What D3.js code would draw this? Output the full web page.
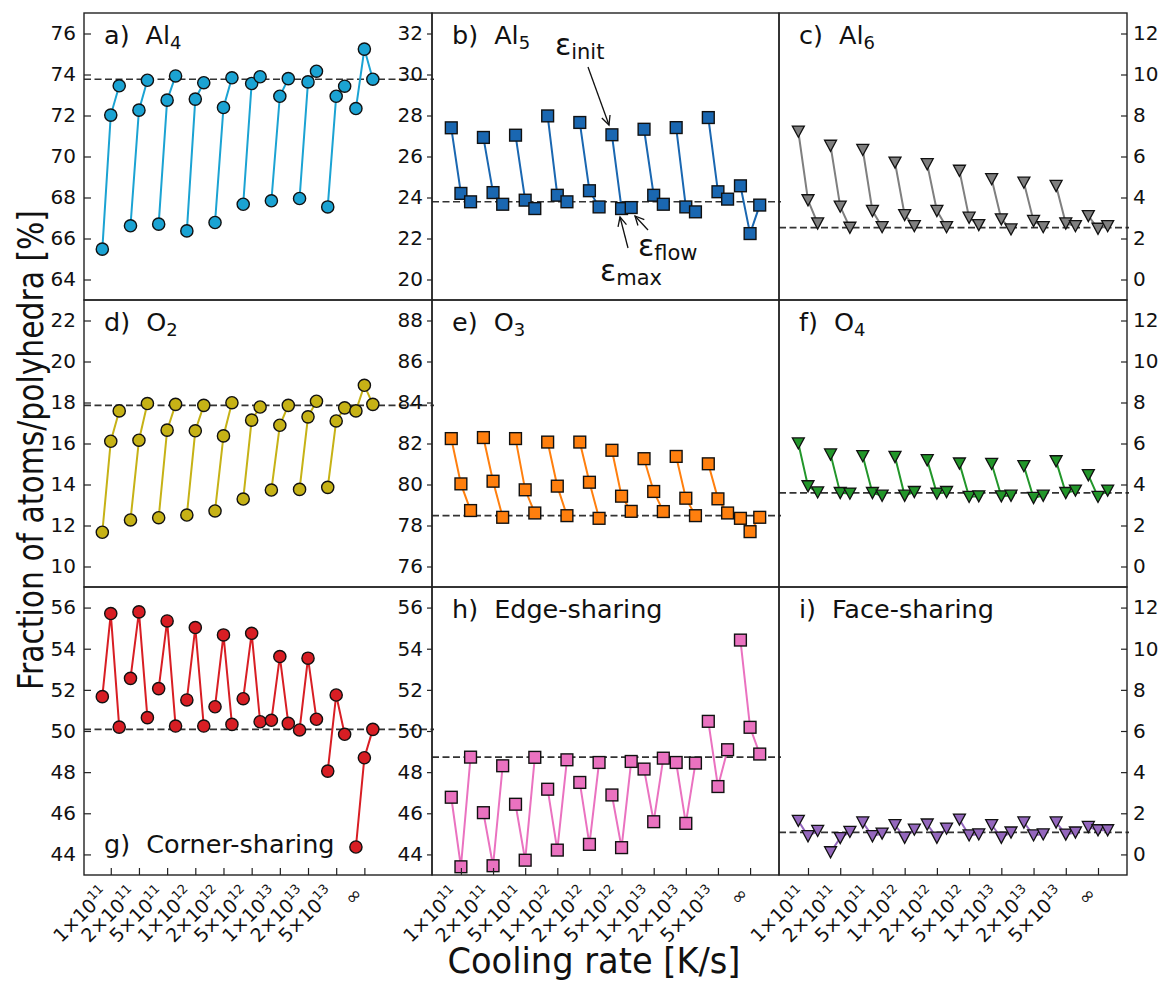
<!DOCTYPE html>
<html><head><meta charset="utf-8">
<script src="https://cdn.jsdelivr.net/npm/d3@7"></script>
<style>
body{margin:0;background:#fff}
svg{display:block}
text{font-family:"DejaVu Sans",sans-serif;fill:#111}
</style>
</head><body>
<svg id="chart" width="1162" height="990"></svg>
<script>
// ---------- tick labels ----------
const tickMantissa = ["1","2","5","1","2","5","1","2","5","∞"];
const tickExponent = ["11","11","11","12","12","12","13","13","13",""];

// ---------- data (init, max, flow per cooling rate) ----------
const al4Init = [65.48,66.62,66.70,66.37,66.78,67.67,67.84,67.95,67.54,72.34];
const al4Max  = [72.02,72.26,72.75,72.80,72.39,73.56,72.94,73.64,72.94,75.24];
const al4Flow = [73.45,73.72,73.93,73.60,73.84,73.89,73.80,74.16,73.43,73.77];
const al4Ref = 73.77;

const al5Init = [27.40,26.93,27.04,27.98,27.66,27.06,27.33,27.41,27.90,24.57];
const al5Max  = [24.20,24.24,23.87,24.11,24.33,23.46,24.11,23.54,24.28,22.24];
const al5Flow = [23.79,23.67,23.46,23.79,23.54,23.51,23.67,23.30,23.92,23.63];
const al5Ref = 23.79;

const al6Init = [7.22,6.53,6.33,5.71,5.63,5.31,4.90,4.73,4.57,3.10];
const al6Max  = [3.87,3.56,3.35,3.15,3.35,3.02,2.94,2.86,2.74,2.48];
const al6Flow = [2.74,2.53,2.56,2.61,2.56,2.66,2.45,2.56,2.61,2.61];
const al6Ref = 2.53;

const o2Init = [11.67,12.27,12.38,12.51,12.71,13.29,13.73,13.76,13.86,17.59];
const o2Max  = [16.11,16.16,16.65,16.62,16.37,17.14,16.89,17.30,17.10,18.84];
const o2Flow = [17.59,17.95,17.91,17.86,17.99,17.78,17.86,18.06,17.74,17.91];
const o2Ref = 17.86;

const o3Init = [82.24,82.29,82.24,82.07,82.07,81.67,81.26,81.37,81.01,78.35];
const o3Max  = [80.03,80.16,79.74,79.92,80.11,79.43,79.66,79.33,79.30,77.70];
const o3Flow = [78.73,78.40,78.61,78.48,78.35,78.69,78.68,78.48,78.61,78.40];
const o3Ref = 78.48;

const o4Init = [6.01,5.47,5.39,5.35,5.19,5.03,5.01,4.90,5.14,4.46];
const o4Max  = [3.92,3.59,3.59,3.46,3.56,3.40,3.43,3.35,3.59,3.40];
const o4Flow = [3.62,3.56,3.46,3.64,3.64,3.43,3.46,3.46,3.71,3.71];
const o4Ref = 3.59;

const cornerInit = [51.67,52.56,52.06,51.51,51.18,51.57,50.52,50.05,48.05,44.36];
const cornerMax  = [55.71,55.79,55.35,55.03,54.67,54.75,53.62,53.54,51.75,48.70];
const cornerFlow = [50.19,50.65,50.24,50.24,50.32,50.45,50.37,50.57,49.84,50.08];
const cornerRef = 50.08;

const edgeInit = [46.78,46.03,46.44,47.17,47.50,46.89,48.15,48.47,50.47,54.42];
const edgeMax  = [43.40,43.45,43.72,44.21,44.49,44.33,45.59,45.51,47.30,50.18];
const edgeFlow = [48.73,48.31,48.72,48.60,48.47,48.52,48.68,48.44,49.09,48.88];
const edgeRef = 48.73;

const faceInit = [1.64,0.11,1.56,1.43,1.46,1.70,1.43,1.56,1.56,1.34];
const faceMax  = [0.89,0.80,0.89,0.82,0.82,0.93,0.82,0.93,0.97,1.18];
const faceFlow = [1.15,1.10,1.02,1.21,1.26,0.98,1.07,0.98,1.07,1.18];
const faceRef = 1.07;

// y-axis lower limits (each panel spans 14 %)
const yLower = [63, 19, -1, 9, 75, -1, 43, 43, -1];

const panels = [
  {tag:"a)", name:"Al", sub:"4", init:al4Init, max:al4Max, flow:al4Flow, ref:al4Ref, color:"#1ba3d3", marker:"circle"},
  {tag:"b)", name:"Al", sub:"5", init:al5Init, max:al5Max, flow:al5Flow, ref:al5Ref, color:"#1a67b1", marker:"square"},
  {tag:"c)", name:"Al", sub:"6", init:al6Init, max:al6Max, flow:al6Flow, ref:al6Ref, color:"#7f7f7f", marker:"tri"},
  {tag:"d)", name:"O", sub:"2", init:o2Init, max:o2Max, flow:o2Flow, ref:o2Ref, color:"#c6b216", marker:"circle"},
  {tag:"e)", name:"O", sub:"3", init:o3Init, max:o3Max, flow:o3Flow, ref:o3Ref, color:"#ff7f0e", marker:"square"},
  {tag:"f)", name:"O", sub:"4", init:o4Init, max:o4Max, flow:o4Flow, ref:o4Ref, color:"#22962a", marker:"tri"},
  {tag:"g)", name:"Corner-sharing", sub:"", init:cornerInit, max:cornerMax, flow:cornerFlow, ref:cornerRef, color:"#d81e24", marker:"circle", labelBottom:true},
  {tag:"h)", name:"Edge-sharing", sub:"", init:edgeInit, max:edgeMax, flow:edgeFlow, ref:edgeRef, color:"#ea72c0", marker:"square"},
  {tag:"i)", name:"Face-sharing", sub:"", init:faceInit, max:faceMax, flow:faceFlow, ref:faceRef, color:"#9467bd", marker:"tri"}
];

// ---------- layout ----------
const colX = [[84,432],[432,779],[779,1127]];
const rowY = [[13,300],[300,587],[587,875]];
const colDomain = [[-0.95,11.4],[-0.9,9.9],[-0.9,9.9]];
const offsets = [-0.3, 0, 0.3];

const svg = d3.select("#chart");
const gPlots = svg.append("g");
const gFrames = svg.append("g");

function drawMarker(g, type, cx, cy, color){
  if(type==="circle"){
    g.append("circle").attr("cx",cx).attr("cy",cy).attr("r",6.1)
      .attr("fill",color).attr("stroke","#111").attr("stroke-width",1.4);
  } else if(type==="square"){
    g.append("rect").attr("x",cx-5.9).attr("y",cy-5.9).attr("width",11.8).attr("height",11.8)
      .attr("fill",color).attr("stroke","#111").attr("stroke-width",1.4);
  } else {
    const s=6;
    g.append("path").attr("d",`M${cx-s},${cy-s*0.9}L${cx+s},${cy-s*0.9}L${cx},${cy+s*0.95}Z`)
      .attr("fill",color).attr("stroke","#111").attr("stroke-width",1.3).attr("stroke-linejoin","miter");
  }
}

panels.forEach((p,k)=>{
  const r = Math.floor(k/3), c = k%3;
  const [x0,x1] = colX[c], [y0,y1] = rowY[r];
  const x = d3.scaleLinear().domain(colDomain[c]).range([x0,x1]);
  const y = d3.scaleLinear().domain([yLower[k], yLower[k]+14]).range([y1,y0]);
  const g = gPlots.append("g");

  // reference dashed line
  g.append("line").attr("x1",x0).attr("x2",x1+2).attr("y1",y(p.ref)).attr("y2",y(p.ref))
    .attr("stroke","#333").attr("stroke-width",1.6).attr("stroke-dasharray","7,3.5");

  const line = d3.line().x(d=>x(d[0])).y(d=>y(d[1]));
  p.init.forEach((v,i)=>{
    const pts = [[i+offsets[0],p.init[i]],[i+offsets[1],p.max[i]],[i+offsets[2],p.flow[i]]];
    g.append("path").attr("d",line(pts)).attr("fill","none")
      .attr("stroke",p.color).attr("stroke-width",2);
    pts.forEach(d=>drawMarker(g,p.marker,x(d[0]),y(d[1]),p.color));
  });

  // y axis
  let axis;
  const yt = d3.range(yLower[k]+1, yLower[k]+14, 2);
  if(c===0) axis = d3.axisLeft(y).tickValues(yt).tickSize(-7).tickPadding(8);
  else if(c===1) axis = d3.axisLeft(y).tickValues(yt).tickSize(5).tickPadding(4);
  else axis = d3.axisRight(y).tickValues(yt).tickSize(-6).tickPadding(6);
  const ga = gFrames.append("g").attr("transform",`translate(${c===2?x1:x0},0)`).call(axis);
  ga.select(".domain").remove();
  ga.selectAll("line").attr("stroke","#222").attr("stroke-width",1.2);
  ga.selectAll("text").attr("font-size",20).attr("font-family","DejaVu Sans").attr("fill","#111");

  // x axis ticks on bottom row
  if(r===2){
    const gx = gFrames.append("g").attr("transform",`translate(0,${y1})`)
      .call(d3.axisBottom(x).tickValues(d3.range(10)).tickSize(-7).tickFormat(""));
    gx.select(".domain").remove();
    gx.selectAll("line").attr("stroke","#222").attr("stroke-width",1.2);
    tickMantissa.forEach((m,i)=>{
      const tx = x(i);
      const t = gFrames.append("text").attr("text-anchor","end").attr("font-size",19)
        .attr("transform",`translate(${tx-1},${y1+20}) rotate(-45)`);
      if(tickExponent[i]){
        t.append("tspan").text(m+"×10");
        t.append("tspan").attr("font-size",13).attr("dy",-8).text(tickExponent[i]);
      } else {
        t.append("tspan").text(m);
      }
    });
  }

  // frame
  gFrames.append("rect").attr("x",x0).attr("y",y0).attr("width",x1-x0).attr("height",y1-y0)
    .attr("fill","none").attr("stroke","#222").attr("stroke-width",1.4);

  // panel label
  const ly = p.labelBottom ? y1-22 : y0+31;
  const lt = gFrames.append("text").attr("x",x0+20).attr("y",ly).attr("font-size",25.5);
  lt.append("tspan").text(p.tag);
  lt.append("tspan").attr("dx",16).text(p.name);
  if(p.sub) lt.append("tspan").attr("font-size",18).attr("dy",5).text(p.sub);
});

// ---------- annotations in panel b ----------
const gAnn = svg.append("g");
function eps(xp,yp,sub){
  const t = gAnn.append("text").attr("x",xp).attr("y",yp).attr("font-size",30);
  t.append("tspan").text("ε");
  t.append("tspan").attr("font-size",21).attr("dy",4).text(sub);
}
eps(555,55,"init");
eps(638,256,"flow");
eps(600,281,"max");
function arrow(xa,ya,xb,yb){
  gAnn.append("line").attr("x1",xa).attr("y1",ya).attr("x2",xb).attr("y2",yb)
    .attr("stroke","#111").attr("stroke-width",1.3);
  const ang = Math.atan2(yb-ya,xb-xa), L=10, w=0.45;
  const p1=[xb-L*Math.cos(ang-w), yb-L*Math.sin(ang-w)];
  const p2=[xb-L*Math.cos(ang+w), yb-L*Math.sin(ang+w)];
  gAnn.append("path").attr("d",`M${p1}L${xb},${yb}L${p2}`).attr("fill","none")
    .attr("stroke","#111").attr("stroke-width",1.3);
}
arrow(588,67,609,125);
arrow(628,248,620,217);
arrow(648,230,635,216);

// ---------- axis titles ----------
svg.append("text").attr("text-anchor","middle")
  .attr("transform","translate(43,450) rotate(-90)")
  .attr("font-size",35).attr("textLength",480).attr("lengthAdjust","spacingAndGlyphs")
  .text("Fraction of atoms/polyhedra [%]");
svg.append("text").attr("text-anchor","middle").attr("x",594).attr("y",973)
  .attr("font-size",36).attr("textLength",293).attr("lengthAdjust","spacingAndGlyphs")
  .text("Cooling rate [K/s]");
</script>
</body></html>
